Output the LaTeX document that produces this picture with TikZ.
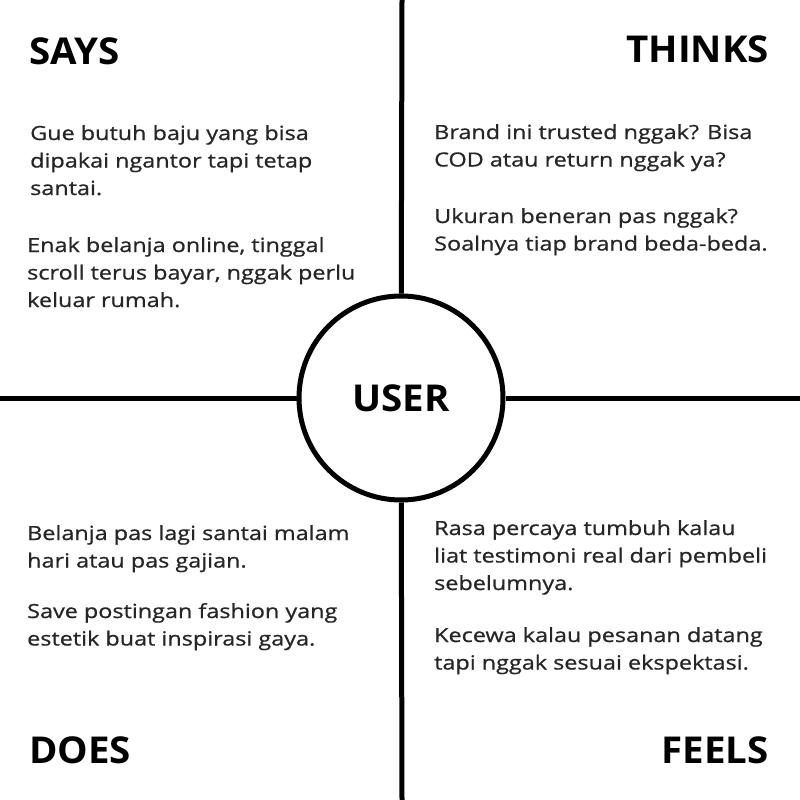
\documentclass[tikz,border=0pt]{standalone}
\usepackage{fontspec}
\setmainfont{Open Sans}
\newfontfamily\bodyfont[FakeStretch=1.2, FakeBold=0.8]{Open Sans}
\newfontfamily\headfont[FakeStretch=1.04]{Open Sans}
\usepackage{tikz}

\definecolor{bodytext}{HTML}{262626}

\tikzset{
  heading/.style={font=\headfont\bfseries\fontsize{37}{40}\selectfont, inner sep=0pt, text=black},
  para/.style={font=\bodyfont\fontsize{19.5}{27.5}\selectfont, inner sep=0pt, text=bodytext, anchor=base west},
  divider/.style={line width=5pt},
}

\begin{document}
\begin{tikzpicture}[x=1pt, y=-1pt]
  \useasboundingbox (0,0) rectangle (800,800);

  % quadrant lines
  \coordinate (top) at (402,0);
  \coordinate (bottom) at (402,800);
  \coordinate (left) at (0,398);
  \coordinate (right) at (800,398);
  \node[circle, draw, line width=5pt, minimum size=204pt, inner sep=0pt,
        font=\headfont\bfseries\fontsize{37}{40}\selectfont] (user) at (401,398) {USER};
  \draw[divider] (top) -- (user);
  \draw[divider] (bottom) -- (user);
  \draw[divider] (left) -- (user);
  \draw[divider] (right) -- (user);

  % headings
  \node[heading, anchor=base west] (says) at (29,64) {SAYS};
  \node[heading, anchor=base east] (thinks) at (769,63) {THINKS};
  \node[heading, anchor=base west] (does) at (29,763) {DOES};
  \node[heading, anchor=base east] (feels) at (769,763) {FEELS};

  % says
  \node[para] (saysA) at (30,140) {\parbox[t]{340pt}{Gue butuh baju yang bisa\\dipakai ngantor tapi tetap\\santai.}};
  \node[para] (saysB) at (27,252) {\parbox[t]{340pt}{Enak belanja online, tinggal\\scroll terus bayar, nggak perlu\\keluar rumah.}};

  % thinks
  \node[para] (thinksA) at (434,139) {\parbox[t]{340pt}{Brand ini trusted nggak? Bisa\\COD atau return nggak ya?}};
  \node[para] (thinksB) at (434,223) {\parbox[t]{340pt}{Ukuran beneran pas nggak?\\Soalnya tiap brand beda-beda.}};

  % does
  \node[para] (doesA) at (27,540) {\parbox[t]{340pt}{Belanja pas lagi santai malam\\hari atau pas gajian.}};
  \node[para] (doesB) at (27,618) {\parbox[t]{340pt}{Save postingan fashion yang\\estetik buat inspirasi gaya.}};

  % feels
  \node[para] (feelsA) at (434,535) {\parbox[t]{340pt}{Rasa percaya tumbuh kalau\\liat testimoni real dari pembeli\\sebelumnya.}};
  \node[para] (feelsB) at (434,642) {\parbox[t]{340pt}{Kecewa kalau pesanan datang\\tapi nggak sesuai ekspektasi.}};
\end{tikzpicture}
\end{document}
